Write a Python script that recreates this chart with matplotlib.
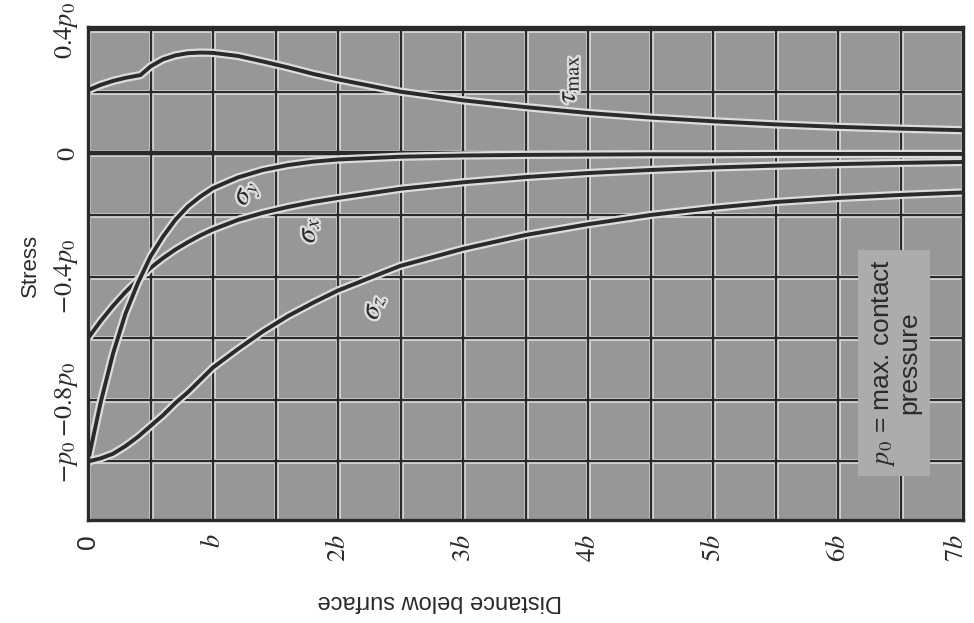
import matplotlib
matplotlib.use("Agg")
import matplotlib.pyplot as plt
import matplotlib.patheffects as pe
import matplotlib.transforms as mtransforms

plt.rcParams['mathtext.fontset'] = 'stix'
plt.rcParams['font.family'] = ['Liberation Sans', 'DejaVu Sans']

#----------------------------------------------------------------------------------
# Data (depth in units of b, stress in units of p0)

depth = [0, 0.1, 0.2, 0.3, 0.4, 0.5, 0.6, 0.7, 0.8, 0.9, 1.0, 1.2, 1.4, 1.6, 1.8,
         2.0, 2.5, 3.0, 3.5, 4.0, 4.5, 5.0, 5.5, 6.0, 6.5, 7.0]

sigma_x = [-0.60, -0.545, -0.495, -0.45, -0.41, -0.372, -0.34, -0.312, -0.288, -0.266,
           -0.247, -0.216, -0.193, -0.174, -0.158, -0.145, -0.115, -0.094, -0.077,
           -0.064, -0.054, -0.046, -0.040, -0.035, -0.031, -0.028]

sigma_y = [-1.0, -0.81, -0.65, -0.52, -0.42, -0.335, -0.27, -0.215, -0.172, -0.14,
           -0.113, -0.078, -0.054, -0.038, -0.027, -0.020, -0.011, -0.007, -0.005,
           -0.004, -0.003, -0.003, -0.002, -0.002, -0.002, -0.002]

sigma_z = [-1.0, -0.99, -0.975, -0.95, -0.92, -0.885, -0.85, -0.81, -0.775, -0.735,
           -0.695, -0.635, -0.578, -0.528, -0.485, -0.445, -0.365, -0.31, -0.265,
           -0.23, -0.20, -0.177, -0.158, -0.145, -0.135, -0.127]

# tau_max has a kink where sigma_x crosses sigma_y
tau_depth = [0, 0.1, 0.2, 0.3, 0.42, 0.5, 0.6, 0.7, 0.8, 0.9, 1.0, 1.2, 1.4, 1.6, 1.8,
             2.0, 2.5, 3.0, 3.5, 4.0, 4.5, 5.0, 5.5, 6.0, 6.5, 7.0]
tau_max = [0.205, 0.222, 0.235, 0.245, 0.254, 0.282, 0.305, 0.318, 0.325, 0.327,
           0.326, 0.316, 0.298, 0.279, 0.258, 0.24, 0.20, 0.172, 0.15, 0.131, 0.116,
           0.104, 0.094, 0.086, 0.080, 0.075]

x_ticks = [0, 1, 2, 3, 4, 5, 6, 7]
x_labels = ['0', '$b$', '$2b$', '$3b$', '$4b$', '$5b$', '$6b$', '$7b$']
y_ticks = [0.4, 0, -0.4, -0.8, -1.0]
y_labels = ['$0.4p_0$', '$0$', '$-0.4p_0$', '$-0.8p_0$', '$-p_0$']

#----------------------------------------------------------------------------------
# Figure

fig = plt.figure(figsize=(9.74, 6.23), dpi=100)
fig.patch.set_facecolor('white')
ax = fig.add_axes([88/974, 1 - 520/623, 875/974, 493/623])
ax.set_facecolor('#979797')
ax.set_xlim(0, 7)
ax.set_ylim(-1.19, 0.41)

ink = '#2a2a2a'
halo = '#d2d2d2'

# Grid with light halo, like the printed chart
for i in range(15):
    gx = i * 0.5
    ax.axvline(gx, color=halo, lw=3.6, zorder=1)
    ax.axvline(gx, color=ink, lw=1.6, zorder=2)
for i in range(9):
    gy = 0.4 - i * 0.2
    ax.axhline(gy, color=halo, lw=3.6 if abs(gy) > 1e-9 else 5.0, zorder=1)
    ax.axhline(gy, color=ink, lw=3.2 if abs(gy) < 1e-9 else 1.6, zorder=2)

# Curves
stroke = [pe.Stroke(linewidth=6.0, foreground='#dcdcdc'), pe.Normal()]
for xs, ys in [(depth, sigma_x), (depth, sigma_y), (depth, sigma_z), (tau_depth, tau_max)]:
    ax.plot(xs, ys, color=ink, lw=2.8, solid_joinstyle='round', zorder=4,
            path_effects=stroke)

# Curve labels
lab_fx = [pe.withStroke(linewidth=3.5, foreground='#dcdcdc')]
ax.text(1.27, -0.13, r'$\sigma_y$', rotation=65, fontsize=21, color=ink,
        ha='center', va='center', zorder=5, path_effects=lab_fx)
ax.text(1.75, -0.25, r'$\sigma_x$', rotation=90, fontsize=21, color=ink,
        ha='center', va='center', zorder=5, path_effects=lab_fx)
ax.text(2.28, -0.50, r'$\sigma_z$', rotation=82, fontsize=21, color=ink,
        ha='center', va='center', zorder=5, path_effects=lab_fx)
ax.text(3.83, 0.24, r'$\tau_{\max}$', rotation=90, fontsize=21, color=ink,
        ha='center', va='center', zorder=5, path_effects=lab_fx)

# Note box
ax.text(6.46, -0.68, '$p_0$ = max. contact\npressure', rotation=90, fontsize=19,
        color=ink, ha='center', va='center', multialignment='center', zorder=6,
        linespacing=1.0,
        bbox=dict(boxstyle='square,pad=0.35', facecolor='#acacac', edgecolor='none'))

# Axes styling
for spine in ax.spines.values():
    spine.set_linewidth(2.4)
    spine.set_color(ink)
    spine.set_zorder(7)
ax.tick_params(axis='both', which='both', length=0)
ax.set_xticks(x_ticks)
ax.set_xticklabels(x_labels, rotation=90, fontsize=19, color=ink)
ax.set_yticks(y_ticks)
ax.set_yticklabels(y_labels, rotation=90, fontsize=19, color=ink, va='center')
ax.tick_params(axis='x', pad=10)
ax.tick_params(axis='y', pad=6)

# Nudge the last x label so it stays inside the figure
last = ax.get_xticklabels()[-1]
last.set_transform(last.get_transform() +
                   mtransforms.ScaledTranslation(-5/72, 0, fig.dpi_scale_trans))

fig.text(30/974, 1 - 265/623, 'Stress', rotation=90, fontsize=16, color=ink,
         ha='center', va='center')
fig.text(440/974, 1 - 601/623, 'Distance below surface', rotation=180, fontsize=17,
         color=ink, ha='center', va='center')

plt.savefig('out.png', dpi=100)
